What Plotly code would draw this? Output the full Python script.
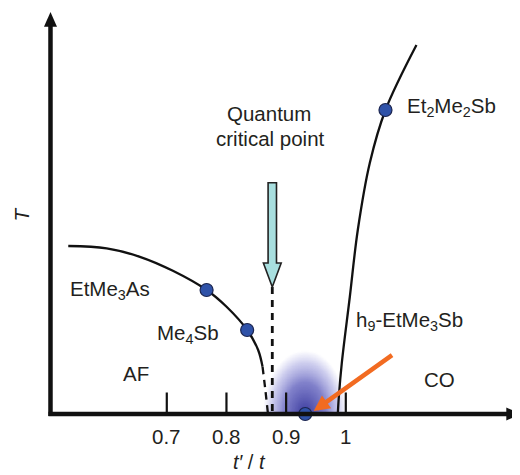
import numpy as np
import plotly.graph_objects as go

# ---------------- data ----------------
# AF phase boundary (t'/t, T) - solid part and dashed continuation
af_x = [0.5349, 0.5992, 0.6549, 0.7102, 0.7667, 0.8002, 0.8347, 0.8531, 0.8605]
af_T = [0.420, 0.414, 0.393, 0.358, 0.310, 0.268, 0.210, 0.160, 0.118]
af_dash_x = [0.8605, 0.8652, 0.8693]
af_dash_T = [0.118, 0.060, 0.004]

# CO phase boundary
co_x = [0.9866, 0.9883, 0.9933, 1.0067, 1.0201, 1.0402, 1.0665, 1.1184]
co_T = [0.000, 0.0425, 0.1275, 0.2925, 0.460, 0.6275, 0.760, 0.9225]

# compounds
comp_names = ["EtMe<sub>3</sub>As", "Me<sub>4</sub>Sb", "h<sub>9</sub>-EtMe<sub>3</sub>Sb", "Et<sub>2</sub>Me<sub>2</sub>Sb"]
comp_x = [0.7667, 0.8347, 0.932, 1.0665]
comp_T = [0.310, 0.210, 0.000, 0.760]

# quantum critical point
qcp_x = 0.8768

# ticks
tick_vals = [0.7, 0.8, 0.9, 1.0]
tick_text = ["0.7", "0.8", "0.9", "1"]

# ---------------- styling ----------------
FONT = "Liberation Sans, Arial, Helvetica, sans-serif"
TXT = "#231f20"
FS = 20.5
DOT = "#2f52a8"

# the page body has an 8px margin, so the figure covers the window from (8, 8)
W, H = 512, 467
XR = [0.43389, 1.29194]
YR = [-0.1525, 1.015]
px_x = (XR[1] - XR[0]) / W   # data units per pixel (x)
px_y = (YR[1] - YR[0]) / H   # data units per pixel (y)

fig = go.Figure()

# QCP glow (heatmap with transparent colorscale)
gcx, gcy = 0.931, 0.0
gx = np.linspace(gcx - 50 * px_x, gcx + 50 * px_x, 140)
gy = np.linspace(0.0, 72 * px_y, 100)
GX, GY = np.meshgrid(gx, gy)
r = np.sqrt(((GX - gcx) / (42 * px_x)) ** 2 + ((GY - gcy) / (64 * px_y)) ** 2)
Z = np.clip(1 - r, 0, 1)
fig.add_trace(go.Heatmap(
    x=gx, y=gy, z=Z, zsmooth="best", showscale=False, hoverinfo="skip",
    zmin=0, zmax=1,
    colorscale=[[0, "rgba(130,130,215,0)"], [0.2, "rgba(110,110,205,0.35)"],
                [0.5, "rgba(75,75,180,0.7)"], [1, "rgba(45,45,150,0.95)"]],
))

# AF boundary
fig.add_trace(go.Scatter(x=af_x, y=af_T, mode="lines", line=dict(color="#111", width=2.3, shape="spline"),
                         hoverinfo="skip"))
fig.add_trace(go.Scatter(x=af_dash_x, y=af_dash_T, mode="lines",
                         line=dict(color="#111", width=2.3, dash="7px,6px", shape="spline"), hoverinfo="skip"))
# CO boundary
fig.add_trace(go.Scatter(x=co_x, y=co_T, mode="lines", line=dict(color="#111", width=2.3, shape="spline"),
                         hoverinfo="skip"))
# QCP dashed vertical line
arrow_tip_T = 0.3175
fig.add_trace(go.Scatter(x=[qcp_x, qcp_x], y=[arrow_tip_T, 0], mode="lines",
                         line=dict(color="#111", width=2.8, dash="7px,6px"), hoverinfo="skip"))

shapes = []
# axes
yax_x = 0.5051
shapes.append(dict(type="line", xref="x", yref="y", x0=yax_x, x1=yax_x, y0=-2 * px_y, y1=0.975,
                   line=dict(color="#111", width=4.5)))
shapes.append(dict(type="path", xref="x", yref="y",
                   path=f"M {yax_x - 6.5 * px_x} 0.968 L {yax_x + 6.5 * px_x} 0.968 L {yax_x} 1.005 Z",
                   fillcolor="#111", line=dict(width=0)))
shapes.append(dict(type="line", xref="x", yref="y", x0=yax_x - 2 * px_x, x1=1.272, y0=0, y1=0,
                   line=dict(color="#111", width=4.5)))
shapes.append(dict(type="path", xref="x", yref="y",
                   path=f"M 1.2690 {6.5 * px_y} L 1.2690 {-6.5 * px_y} L 1.2935 0 Z",
                   fillcolor="#111", line=dict(width=0)))
# tick marks
for tv in tick_vals:
    shapes.append(dict(type="line", xref="x", yref="y", x0=tv, x1=tv, y0=0, y1=21.5 * px_y,
                       line=dict(color="#111", width=2.2)))
# cyan QCP arrow
sw, hw = 4.2 * px_x, 8.9 * px_x
shaft_top, shaft_bot = 0.578, 0.3775
shapes.append(dict(type="path", xref="x", yref="y",
                   path=(f"M {qcp_x - sw} {shaft_top} L {qcp_x + sw} {shaft_top} L {qcp_x + sw} {shaft_bot} "
                         f"L {qcp_x + hw} {shaft_bot} L {qcp_x} {arrow_tip_T} L {qcp_x - hw} {shaft_bot} "
                         f"L {qcp_x - sw} {shaft_bot} Z"),
                   fillcolor="#a8dfdf", line=dict(color="#222", width=1.6)))

annotations = []
# orange arrow pointing to h9 compound
annotations.append(dict(x=comp_x[2] + 8.5 * px_x, y=comp_T[2] + 3 * px_y, ax=1.0800, ay=0.1500,
                        xref="x", yref="y", axref="x", ayref="y", text="", showarrow=True,
                        arrowhead=2, arrowsize=0.7, arrowwidth=4.5, arrowcolor="#f26b21"))


def label(text, x, y, xanchor="left", size=FS, **kw):
    annotations.append(dict(text=text, x=x, y=y, xref="x", yref="y", xanchor=xanchor, yanchor="middle",
                            showarrow=False, font=dict(family=FONT, size=size, color=TXT), **kw))


label("Quantum", 0.8713, 0.752, xanchor="center")
label("critical point", 0.8746, 0.690, xanchor="center")
label(comp_names[3], 1.1000, 0.768)
label(comp_names[0], 0.5340, 0.310)
label(comp_names[1], 0.6810, 0.199)
label(comp_names[2], 1.0130, 0.232)
label("AF", 0.6240, 0.1018)
label("CO", 1.1275, 0.0858)
for tv, tt in zip(tick_vals, tick_text):
    label(tt, tv, -0.0558, xanchor="center")
label("<i>t′</i> / <i>t</i>", 0.8394, -0.121, xanchor="center", size=20)
label("<i>T</i>", 0.4565, 0.50, xanchor="center", textangle=-90)

# compound points (on top)
fig.add_trace(go.Scatter(x=comp_x, y=comp_T, mode="markers", cliponaxis=False,
                         marker=dict(color=DOT, size=13, line=dict(color="#1b2550", width=1.2)),
                         hoverinfo="skip"))

fig.update_layout(
    width=W, height=H, margin=dict(l=0, r=0, t=0, b=0),
    paper_bgcolor="white", plot_bgcolor="white", showlegend=False,
    xaxis=dict(range=XR, visible=False, fixedrange=True),
    yaxis=dict(range=YR, visible=False, fixedrange=True),
    shapes=shapes, annotations=annotations,
)

fig.write_html("out.html")
